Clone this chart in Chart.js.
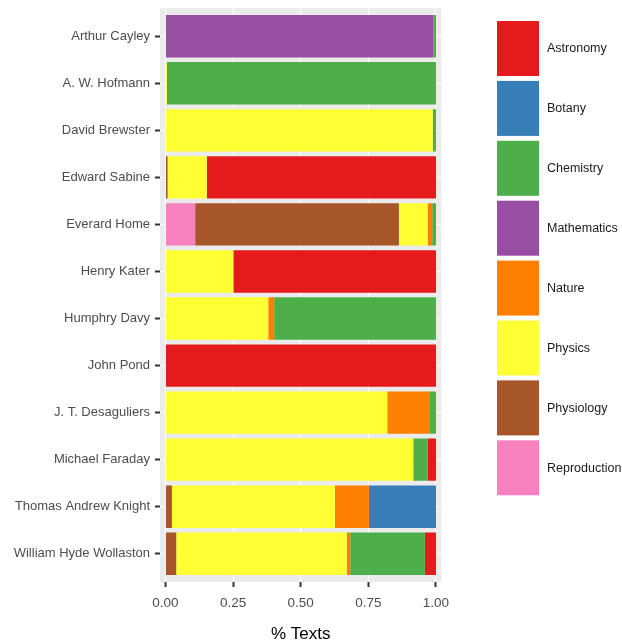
<!DOCTYPE html>
<html>
<head>
<meta charset="utf-8">
<script src="https://cdn.jsdelivr.net/npm/chart.js@4.4.1/dist/chart.umd.min.js"></script>
<style>
  html, body { margin: 0; padding: 0; background: #fff; }
  #wrap { width: 622px; height: 640px; position: relative; }
</style>
</head>
<body>
<div id="wrap"><canvas id="graph"></canvas></div>
<script>
// authors, top to bottom
var names = ["Arthur Cayley", "A. W. Hofmann", "David Brewster", "Edward Sabine", "Everard Home",
  "Henry Kater", "Humphry Davy", "John Pond", "J. T. Desaguliers", "Michael Faraday",
  "Thomas Andrew Knight", "William Hyde Wollaston"];

// share of texts per field
var astronomy    = [0, 0, 0, 0.847, 0, 0.749, 0, 1, 0, 0.03, 0, 0.041];
var botany       = [0, 0, 0, 0, 0, 0, 0, 0, 0, 0, 0.248, 0];
var chemistry    = [0.01, 0.995, 0.012, 0, 0.014, 0, 0.598, 0, 0.025, 0.054, 0, 0.276];
var mathematics  = [0.99, 0, 0, 0, 0, 0, 0, 0, 0, 0, 0, 0];
var nature       = [0, 0, 0, 0, 0.017, 0, 0.022, 0, 0.155, 0, 0.126, 0.013];
var physics      = [0, 0.005, 0.988, 0.145, 0.106, 0.251, 0.38, 0, 0.82, 0.916, 0.602, 0.63];
var physiology   = [0, 0, 0, 0.008, 0.753, 0, 0, 0, 0, 0, 0.024, 0.04];
var reproduction = [0, 0, 0, 0, 0.11, 0, 0, 0, 0, 0, 0, 0];

var fields = ["Astronomy", "Botany", "Chemistry", "Mathematics", "Nature", "Physics", "Physiology", "Reproduction"];
var colors = ["#e41a1c", "#377eb8", "#4daf4a", "#984ea3", "#ff7f00", "#ffff33", "#a65628", "#f781bf"];
var series = [astronomy, botany, chemistry, mathematics, nature, physics, physiology, reproduction];
var xTicks = [0, 0.25, 0.5, 0.75, 1];

var FONT = '"Liberation Sans", Arial, sans-serif';
Chart.defaults.font.family = FONT;

// stacked left to right: reproduction first, astronomy last
var datasets = [];
for (var i = fields.length - 1; i >= 0; i--) {
  datasets.push({
    label: fields[i],
    data: series[i],
    backgroundColor: colors[i],
    borderWidth: 0,
    categoryPercentage: 0.9,
    barPercentage: 1
  });
}

var panelBg = {
  id: 'panelBg',
  beforeDraw: function(chart) {
    var a = chart.chartArea, c = chart.ctx;
    c.save();
    c.fillStyle = '#ebebeb';
    c.fillRect(a.left, a.top, a.right - a.left, a.bottom - a.top);
    c.restore();
  }
};

var sideLegend = {
  id: 'sideLegend',
  afterDraw: function(chart) {
    var c = chart.ctx;
    c.save();
    for (var i = 0; i < fields.length; i++) {
      var top = 21 + i * 59.9;
      c.fillStyle = colors[i];
      c.fillRect(497, top, 42, 55);
      c.fillStyle = '#1a1a1a';
      c.font = '12.5px ' + FONT;
      c.textBaseline = 'middle';
      c.textAlign = 'left';
      c.fillText(fields[i], 547, top + 28);
    }
    c.restore();
  }
};

var g = document.getElementById("graph").getContext("2d");
var graph = new Chart(g, {
  type: 'bar',
  data: {
    labels: names.map(function(n, i) { return i; }),
    datasets: datasets
  },
  options: {
    indexAxis: 'y',
    responsive: true,
    maintainAspectRatio: false,
    animation: false,
    layout: { padding: { top: 8, right: 180.6, bottom: 0, left: 0 } },
    plugins: {
      legend: { display: false },
      tooltip: { enabled: false }
    },
    scales: {
      x: {
        type: 'linear',
        stacked: true,
        min: -0.02,
        max: 1.02,
        afterBuildTicks: function(s) { s.ticks = xTicks.map(function(v) { return { value: v }; }); },
        afterFit: function(s) { s.height = 58; s.paddingLeft = 0; s.paddingRight = 0; },
        grid: { color: '#ffffff', lineWidth: 1, drawTicks: true, tickLength: 5, tickColor: '#333333', tickWidth: 2 },
        border: { display: false },
        ticks: {
          padding: 8,
          color: '#4d4d4d',
          font: { size: 13.5 },
          callback: function(v) { return v.toFixed(2); }
        },
        title: {
          display: true,
          text: '% Texts',
          color: '#000000',
          font: { size: 17 },
          padding: { top: 0, bottom: -5 }
        }
      },
      y: {
        type: 'linear',
        stacked: true,
        reverse: true,
        offset: false,
        min: -0.6,
        max: 11.6,
        afterBuildTicks: function(s) { s.ticks = names.map(function(n, i) { return { value: i }; }); },
        afterFit: function(s) { s.width = 160; s.paddingTop = 0; s.paddingBottom = 0; },
        grid: { offset: false, color: '#ffffff', lineWidth: 1, drawTicks: true, tickLength: 5, tickColor: '#333333', tickWidth: 2 },
        border: { display: false },
        ticks: {
          padding: 5,
          color: '#4d4d4d',
          font: { size: 13 },
          callback: function(v) { return names[v]; }
        }
      }
    }
  },
  plugins: [panelBg, sideLegend]
});
</script>
</body>
</html>
